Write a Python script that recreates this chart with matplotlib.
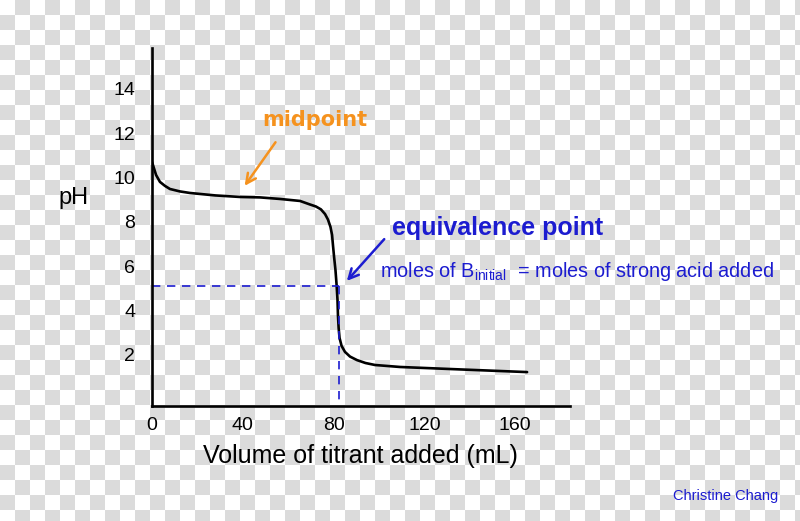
import numpy as np
import matplotlib
matplotlib.use("Agg")
import matplotlib.pyplot as plt

# titration curve (volume in mL, pH)
volume = [0, 1.8, 3.5, 5.7, 7.9, 12.3, 16.7, 27.8, 38.8, 47.6, 56.4, 65.2,
          69.6, 72.2, 74.4, 76.2, 77.5, 78.6, 79.3, 79.7, 80.2, 80.8, 81.3,
          81.7, 81.9, 82.2, 82.6, 83.5, 85.0, 87.2, 90.3, 94.0, 98.2, 109.3,
          135.7, 165.2]
ph = [10.70, 10.11, 9.80, 9.62, 9.48, 9.37, 9.30, 9.19, 9.12, 9.10, 9.03, 8.94,
      8.78, 8.69, 8.56, 8.35, 8.10, 7.77, 7.41, 6.95, 6.41, 5.83, 5.15,
      4.47, 3.79, 3.21, 2.76, 2.40, 2.13, 1.92, 1.76, 1.63, 1.54, 1.45,
      1.34, 1.22]

xticks = [0, 40, 80, 120, 160]
yticks = [2, 4, 6, 8, 10, 12, 14]

equiv_volume = 82.4
equiv_ph = 5.1
midpoint_volume = 40.1
midpoint_ph = 9.52

orange = "#f5921e"
blue = "#1c1cd0"

W, H = 800, 521
fig = plt.figure(figsize=(W / 100, H / 100), dpi=100)

# transparency checkerboard behind everything
jj, ii = np.indices((H, W))
check = ((ii // 15 + jj // 15) % 2).astype(float)
bg = np.ones((H, W, 3))
bg[check == 1] = 0.86
im = fig.figimage(bg, xo=0, yo=0, origin="upper")
im.set_zorder(-1)
fig.patch.set_alpha(0)

ax = fig.add_axes([152 / W, 1 - 406 / H, 418 / W, 358 / H])
ax.patch.set_alpha(0)

ax.plot(volume, ph, color="black", lw=1.9, solid_capstyle="round",
        solid_joinstyle="round")

# dashed guide lines for the equivalence point
ax.plot([0, equiv_volume], [equiv_ph, equiv_ph], color=blue, lw=1.2, dashes=(5, 4))
ax.plot([equiv_volume, equiv_volume], [equiv_ph, -0.31], color=blue, lw=1.2, dashes=(5, 4))

ax.set_xlim(0, 184.1)
ax.set_ylim(-0.31, 15.84)
ax.set_xticks(xticks)
ax.set_xticklabels([str(v) for v in xticks])
ax.set_yticks(yticks)
ax.set_yticklabels([str(v) for v in yticks])
ax.tick_params(length=0, labelsize=14, labelfontfamily="Liberation Sans")
ax.tick_params(axis="x", pad=8)
ax.tick_params(axis="y", pad=12)

for s in ["top", "right"]:
    ax.spines[s].set_visible(False)
for s in ["left", "bottom"]:
    ax.spines[s].set_linewidth(1.9)
    ax.spines[s].set_color("black")

# annotations
ax.annotate("", xy=(midpoint_volume, midpoint_ph), xytext=(55.1, 11.69),
            arrowprops=dict(arrowstyle="->,head_length=0.7,head_width=0.35",
                            color=orange, lw=1.8))
ax.text(71.8, 12.6, "midpoint", color=orange, fontsize=15, fontweight="bold",
        family="DejaVu Sans", ha="center", va="center")

ax.annotate("", xy=(85.0, 5.24), xytext=(103.1, 7.31),
            arrowprops=dict(arrowstyle="->,head_length=0.7,head_width=0.35",
                            color=blue, lw=1.8))
ax.text(105.7, 7.7, "equivalence point", color=blue, fontsize=18, fontweight="bold",
        family="Liberation Sans", ha="left", va="center")

plt.rcParams["mathtext.fontset"] = "custom"
plt.rcParams["mathtext.rm"] = "Liberation Sans"
ax.text(100.4, 5.51, r"moles of B$_{\rm initial}$  = moles of strong acid added",
        color=blue, fontsize=14.3, family="Liberation Sans", ha="left", va="baseline")

fig.text(74 / W, 1 - 198 / H, "pH", fontsize=17, family="Liberation Sans",
         ha="center", va="center")
fig.text(360 / W, 1 - 456 / H, "Volume of titrant added (mL)", fontsize=18,
         family="Liberation Sans", ha="center", va="center")
fig.text(778 / W, 1 - 496 / H, "Christine Chang", fontsize=10.5, color=blue,
         family="Liberation Sans", ha="right", va="center")

fig.savefig("out.png", dpi=100)
